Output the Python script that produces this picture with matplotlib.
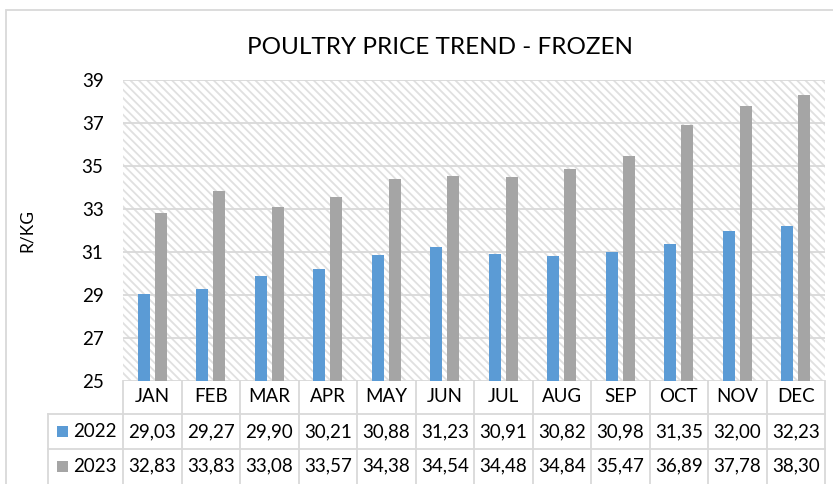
import matplotlib
matplotlib.use("Agg")
import matplotlib.pyplot as plt
import matplotlib.patches as mpatches
from matplotlib.lines import Line2D
import numpy as np

months = ["JAN", "FEB", "MAR", "APR", "MAY", "JUN", "JUL", "AUG", "SEP", "OCT", "NOV", "DEC"]
series_names = ["2022", "2023"]
values_2022 = [29.03, 29.27, 29.90, 30.21, 30.88, 31.23, 30.91, 30.82, 30.98, 31.35, 32.00, 32.23]
values_2023 = [32.83, 33.83, 33.08, 33.57, 34.38, 34.54, 34.48, 34.84, 35.47, 36.89, 37.78, 38.30]
yticks = [25, 27, 29, 31, 33, 35, 37, 39]

colors = ["#5B9BD5", "#A5A5A5"]
grid_c = "#D9D9D9"
FONT = "Lato"
plt.rcParams["font.family"] = [FONT, "DejaVu Sans"]
plt.rcParams["hatch.linewidth"] = 1.3

W, H = 833, 484
fig = plt.figure(figsize=(W / 100, H / 100), dpi=100)
L, R, T, B = 123, 825, 80, 381
ax = fig.add_axes([L / W, 1 - B / H, (R - L) / W, (B - T) / H])

# outer chart frame
fig.patches.append(mpatches.Rectangle((6 / W, -0.2), 2, 1.2 - 10 / H, transform=fig.transFigure,
                                      fill=False, edgecolor=grid_c, linewidth=1.3))

# hatched background
bg = mpatches.Rectangle((0, 0), 1, 1, transform=ax.transAxes, facecolor="white",
                        edgecolor="#E0E0E0", hatch="\\\\\\\\", linewidth=0, zorder=0)
ax.add_patch(bg)
ax.set_facecolor("white")

x = np.arange(len(months))
bw = 0.205
off = 0.145
ax.bar(x - off, values_2022, width=bw, color=colors[0], zorder=3)
ax.bar(x + off, values_2023, width=bw, color=colors[1], zorder=3)

ax.set_xlim(-0.5, len(months) - 0.5)
ax.set_ylim(yticks[0], yticks[-1])
ax.set_yticks(yticks)
ax.set_yticklabels([str(v) for v in yticks], fontsize=13.5, color="black")
ax.tick_params(axis="y", length=0, pad=14)
ax.set_xticks([])
for s in ax.spines.values():
    s.set_visible(False)
ax.yaxis.grid(True, color=grid_c, linewidth=1.3, zorder=1)
ax.set_axisbelow(True)

ax.set_ylabel("R/KG", fontsize=12.5, labelpad=22, color="black")
ax.yaxis.set_label_coords((35 - L) / (R - L), 0.5)

fig.text(440 / W, 1 - 47 / H, "POULTRY PRICE TREND - FROZEN", ha="center", va="center",
         fontsize=17.5, color="black")

# data table
ph = B - T
def yf(py):
    return (B - py) / ph
def xf(px):
    return (px - L) / (R - L)

tr = ax.get_xaxis_transform()
y_hdr_bot = yf(414)
y_r1_bot = yf(449)
y_tab_bot = yf(490)
lab_left = xf(48)
lk = dict(color=grid_c, linewidth=1.3, clip_on=False, zorder=5)

for i in range(len(months) + 1):
    ax.add_line(Line2D([i - 0.5, i - 0.5], [0, y_tab_bot], transform=tr, **lk))
ax.add_line(Line2D([lab_left, lab_left], [y_hdr_bot, y_tab_bot], transform=ax.transAxes, **lk))
for yy in (y_hdr_bot, y_r1_bot):
    ax.add_line(Line2D([lab_left, 1], [yy, yy], transform=ax.transAxes, **lk))

y_hdr_c = yf(397)
y_r_c = [yf(431.5), yf(466)]
for i, m in enumerate(months):
    ax.text(i, y_hdr_c, m, transform=tr, ha="center", va="center", fontsize=13.5, color="black")
for r, vals in enumerate([values_2022, values_2023]):
    for i, v in enumerate(vals):
        ax.text(i, y_r_c[r], f"{v:.2f}".replace(".", ","), transform=tr, ha="center",
                va="center", fontsize=13.5, color="black")
    sq = mpatches.Rectangle((xf(57), y_r_c[r] - 5.5 / ph), 11 / (R - L), 11 / ph,
                            transform=ax.transAxes, facecolor=colors[r], edgecolor="none",
                            clip_on=False, zorder=6)
    ax.add_patch(sq)
    ax.text(xf(73), y_r_c[r], series_names[r], transform=ax.transAxes, ha="left",
            va="center", fontsize=13.5, color="black")

fig.savefig("out.png", dpi=100)
